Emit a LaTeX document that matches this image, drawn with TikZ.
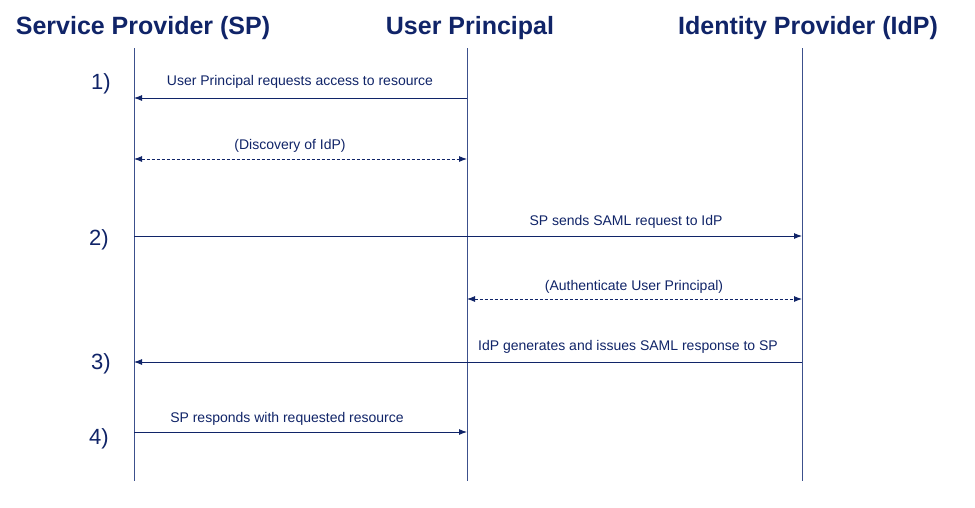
\documentclass[tikz,border=0pt]{standalone}
\usepackage{fontspec}
\setmainfont{Liberation Sans}
\usetikzlibrary{arrows.meta}
\definecolor{navy}{RGB}{16,36,104}
\definecolor{lifeline}{RGB}{60,80,140}
\begin{document}
\begin{tikzpicture}[x=1pt,y=-1pt,
  header/.style={font=\fontsize{25}{28}\selectfont\bfseries, text=navy, inner sep=0pt, anchor=center},
  stepnum/.style={font=\fontsize{22}{24}\selectfont, text=navy, inner sep=0pt, anchor=center},
  msglabel/.style={font=\fontsize{14}{16}\selectfont, text=navy, inner sep=0pt, anchor=center},
  lifelinestyle/.style={draw=lifeline, line width=0.9pt},
  msg/.style={draw=navy, line width=0.9pt, -{Latex[length=8pt,width=6pt]}},
  dmsg/.style={draw=navy, line width=0.9pt, dashed, dash pattern=on 3pt off 2pt, {Latex[length=8pt,width=6pt]}-{Latex[length=8pt,width=6pt]}}
]
\useasboundingbox (0,0) rectangle (975,507);
\fill[white] (0,0) rectangle (975,507);

% headers
\node[header] (hsp) at (143,28) {Service Provider (SP)};
\node[header] (hup) at (470,28) {User Principal};
\node[header] (hidp) at (808,28) {Identity Provider (IdP)};

% lifelines
\coordinate (sptop) at (134,48);
\coordinate (spbot) at (134,481);
\coordinate (uptop) at (467,48);
\coordinate (upbot) at (467,481);
\coordinate (idptop) at (802,48);
\coordinate (idpbot) at (802,481);
\draw[lifelinestyle] (sptop) -- (spbot);
\draw[lifelinestyle] (uptop) -- (upbot);
\draw[lifelinestyle] (idptop) -- (idpbot);

% step numbers
\node[stepnum] (n1) at (101,84) {1)};
\node[stepnum] (n2) at (99,240) {2)};
\node[stepnum] (n3) at (101,364) {3)};
\node[stepnum] (n4) at (99,439) {4)};

% message endpoints
\coordinate (m1a) at (467,98);  \coordinate (m1b) at (134,98);
\coordinate (m2a) at (134,159); \coordinate (m2b) at (467,159);
\coordinate (m3a) at (134,236); \coordinate (m3b) at (802,236);
\coordinate (m4a) at (467,299); \coordinate (m4b) at (802,299);
\coordinate (m5a) at (802,362); \coordinate (m5b) at (134,362);
\coordinate (m6a) at (134,432); \coordinate (m6b) at (467,432);

\draw[msg] (m1a) -- (m1b);
\draw[dmsg] (m2a) -- (m2b);
\draw[msg] (m3a) -- (m3b);
\draw[dmsg] (m4a) -- (m4b);
\draw[msg] (m5a) -- (m5b);
\draw[msg] (m6a) -- (m6b);

% labels
\node[msglabel] (l1) at (300,82) {User Principal requests access to resource};
\node[msglabel] (l2) at (290,146) {(Discovery of IdP)};
\node[msglabel] (l3) at (626,222) {SP sends SAML request to IdP};
\node[msglabel] (l4) at (634,287) {(Authenticate User Principal)};
\node[msglabel] (l5) at (628,347) {IdP generates and issues SAML response to SP};
\node[msglabel] (l6) at (287,419) {SP responds with requested resource};
\end{tikzpicture}
\end{document}
